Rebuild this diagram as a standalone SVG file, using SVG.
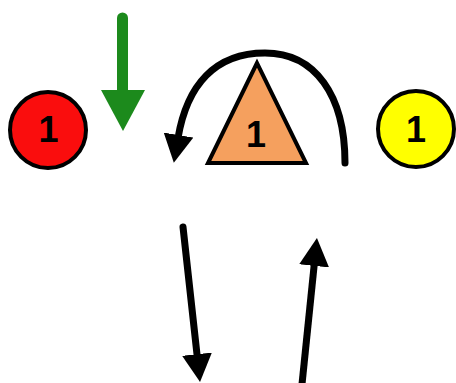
<svg xmlns="http://www.w3.org/2000/svg" width="456" height="383" viewBox="0 0 456 383">
<style>
.lbl{font-family:"Liberation Sans",Arial,sans-serif;font-size:36px;font-weight:bold;fill:#000;text-anchor:middle}
.shape{stroke:#000;stroke-width:4}
.conn{fill:none;stroke:#000;stroke-width:7}
</style>
<defs>
<marker id="ah" markerUnits="userSpaceOnUse" viewBox="0 0 28 30" markerWidth="28" markerHeight="30" refX="3" refY="15" orient="auto">
<path d="M0,0 L28,15 L0,30 z" fill="#000"/>
</marker>
</defs>
<rect width="456" height="383" fill="#fff"/>
<g id="red-circle">
<circle class="shape" cx="48" cy="130" r="38" fill="#fa0d0d"/>
<text class="lbl" x="48.5" y="142">1</text>
</g>
<g id="triangle">
<polygon class="shape" points="257,63 208,163 306,163" fill="#f5a05e" stroke-linejoin="miter"/>
<text class="lbl" x="256" y="147">1</text>
</g>
<g id="yellow-circle">
<circle class="shape" cx="416" cy="129" r="38" fill="#ffff00"/>
<text class="lbl" x="416" y="142">1</text>
</g>
<g id="connectors">
<g id="green-arrow">
<line x1="122.5" y1="18" x2="122.5" y2="92" stroke="#1c8a1c" stroke-width="11" stroke-linecap="round"/>
<polygon points="101,90 145,90 123,131" fill="#1c8a1c"/>
</g>
<path class="conn" stroke-width="6" stroke-linecap="round" d="M345,163 C345,95 315,53 265,53 C215,53 187,85 178,138" marker-end="url(#ah)"/>
<line class="conn" x1="183" y1="227" x2="197.3" y2="357.2" stroke-linecap="round" marker-end="url(#ah)"/>
<line class="conn" x1="301.2" y1="392" x2="314.4" y2="262.9" marker-end="url(#ah)"/>
</g>
</svg>
